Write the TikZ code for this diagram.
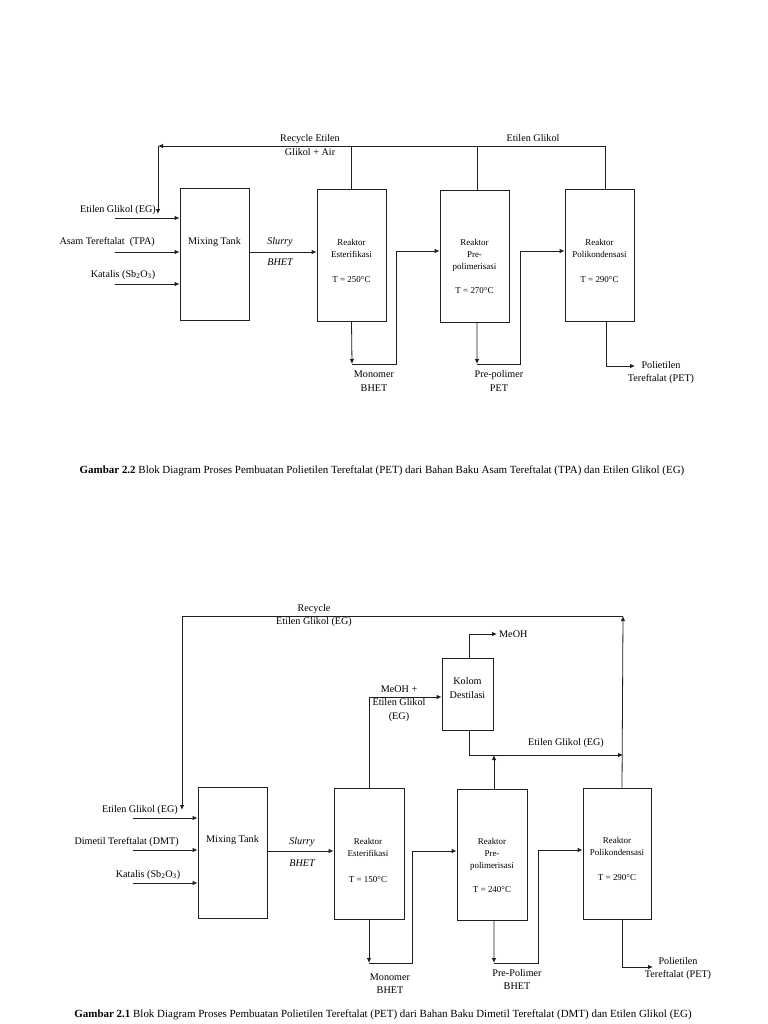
\documentclass[tikz,border=0pt]{standalone}
\usepackage{fontspec}
\setmainfont{Liberation Serif}
\usetikzlibrary{arrows.meta}
\definecolor{ln}{gray}{0.12}

\begin{document}
\begin{tikzpicture}[x=1bp, y=-1bp,
    block/.style={rectangle, draw=ln, line width=0.8bp, minimum width=69bp, minimum height=132bp, inner sep=0pt},
    kolom/.style={block, minimum width=51bp, minimum height=72bp},
    txt/.style={font=\fontsize{10.2}{13.5}\selectfont, align=center, inner sep=0pt},
    intxt/.style={font=\fontsize{9}{12}\selectfont, align=center, inner sep=0pt},
    captxt/.style={font=\fontsize{11}{12}\selectfont, inner sep=0pt},
    arrow/.style={-{Latex[length=5bp, width=4.5bp]}, draw=ln, line width=0.8bp},
    line/.style={draw=ln, line width=0.8bp}
]
\useasboundingbox (0,0) rectangle (768,1024);

%% ---------- Gambar 2.2 (TPA) ----------

% Blocks
\node[block] (mix1) at (214.5,254) {};
\node[txt] (mix1t) at (214.5,242) {Mixing Tank};
\node[block] (est1) at (351.5,255) {};
\node[intxt] (est1t) at (351.5,261) {Reaktor\\Esterifikasi\\[13bp]T = 250°C};
\node[block] (pre1) at (474.5,256) {};
\node[intxt] (pre1t) at (474.5,266) {Reaktor\\Pre-\\polimerisasi\\[12bp]T = 270°C};
\node[block] (pol1) at (599.5,255) {};
\node[intxt] (pol1t) at (599.5,261) {Reaktor\\Polikondensasi\\[13bp]T = 290°C};

% Inputs
\coordinate (a1) at (115,218);
\coordinate (a2) at (115,252);
\coordinate (a3) at (115,284);
\node[txt, anchor=east] (eg1) at (156,210) {Etilen Glikol (EG)};
\node[txt, anchor=east] (tpa1) at (155,242) {Asam Tereftalat~ (TPA)};
\node[txt] (kat1) at (123,275) {Katalis (Sb\textsubscript{2}O\textsubscript{3})};
\draw[arrow] (a1) -- (a1 -| mix1.west);
\draw[arrow] (a2) -- (a2 -| mix1.west);
\draw[arrow] (a3) -- (a3 -| mix1.west);

% Slurry
\node[txt, font=\fontsize{10.2}{13.5}\selectfont\itshape] (sl1) at (280,242) {Slurry};
\node[txt, font=\fontsize{10.2}{13.5}\selectfont\itshape] (bh1) at (280,262) {BHET};
\draw[arrow] (mix1.east |- a2) -- (est1.west |- a2);

% Recycle
\coordinate (rc1) at (158,146);
\coordinate (rc1b) at (158,214);
\draw[arrow] ([xshift=5.5bp]pol1.north) |- (rc1);
\draw[line] (est1.north) -- (est1.north |- rc1);
\draw[line] ([xshift=2.5bp]pre1.north) -- ([xshift=2.5bp]pre1.north |- rc1);
\draw[arrow] (rc1) -- (rc1b);
\node[txt] (rec1) at (310,145) {Recycle Etilen\\Glikol + Air};
\node[txt] (egl1) at (533,138) {Etilen Glikol};

% Products
\coordinate (m1) at (352,364);
\coordinate (m1b) at (396,251);
\draw[arrow] (est1.south) -- (m1);
\draw[arrow] (m1) -| (m1b) -- (m1b -| pre1.west);
\node[txt] (mon1) at (374,381) {Monomer\\BHET};
\coordinate (p1) at (477,364);
\coordinate (p1b) at (520,251);
\draw[arrow] ([xshift=2.5bp]pre1.south) -- (p1);
\draw[arrow] (p1) -| (p1b) -- (p1b -| pol1.west);
\node[txt] (pp1) at (499,381) {Pre-polimer\\PET};
\coordinate (e1) at (635,366);
\draw[arrow] ([xshift=6.5bp]pol1.south) |- (e1);
\node[txt] (pet1) at (661,372.5) {Polietilen\\Tereftalat (PET)};

% Caption
\node[captxt] (cap1) at (382,471) {\textbf{Gambar 2.2} Blok Diagram Proses Pembuatan Polietilen Tereftalat (PET) dari Bahan Baku Asam Tereftalat (TPA) dan Etilen Glikol (EG)};

%% ---------- Gambar 2.1 (DMT) ----------

% Blocks
\node[block, minimum height=131bp] (mix2) at (232.5,852.5) {};
\node[txt] (mix2t) at (232.5,840) {Mixing Tank};
\node[block, minimum width=70bp, minimum height=131bp] (est2) at (369,853.5) {};
\node[intxt] (est2t) at (368,860) {Reaktor\\Esterifikasi\\[14bp]T = 150°C};
\node[block, minimum width=70bp, minimum height=131bp] (pre2) at (492,854.5) {};
\node[intxt] (pre2t) at (492,865.5) {Reaktor\\Pre-\\polimerisasi\\[12bp]T = 240°C};
\node[block, minimum width=68bp, minimum height=131bp] (pol2) at (617,853.5) {};
\node[intxt] (pol2t) at (617,859) {Reaktor\\Polikondensasi\\[13bp]T = 290°C};
\node[kolom] (kol) at (467.5,694) {};
\node[txt] (kolt) at (467.5,688) {Kolom\\Destilasi};

% Inputs
\coordinate (b1) at (133,818);
\coordinate (b2) at (133,850);
\coordinate (b3) at (133,883);
\node[txt, anchor=east] (eg2) at (178,810) {Etilen Glikol (EG)};
\node[txt, anchor=east] (dmt2) at (179,842) {Dimetil Tereftalat (DMT)};
\node[txt] (kat2) at (148,875) {Katalis (Sb\textsubscript{2}O\textsubscript{3})};
\draw[arrow] (b1) -- (b1 -| mix2.west);
\draw[arrow] (b2) -- (b2 -| mix2.west);
\draw[arrow] (b3) -- (b3 -| mix2.west);

% Slurry
\node[txt, font=\fontsize{10.2}{13.5}\selectfont\itshape] (sl2) at (302,842) {Slurry};
\node[txt, font=\fontsize{10.2}{13.5}\selectfont\itshape] (bh2) at (302,863) {BHET};
\draw[arrow] (mix2.east |- 0,851) -- (est2.west |- 0,851);

% Recycle
\coordinate (rc2) at (182,616);
\coordinate (rc2r) at (623,616);
\coordinate (rc2b) at (182,810);
\draw[arrow] ([xshift=5bp]pol2.north) -- (rc2r);
\draw[line] (rc2r) -- (rc2);
\draw[arrow] (rc2) -- (rc2b);
\node[txt] (rec2) at (314,615.5) {Recycle\\Etilen Glikol (EG)};

% Kolom destilasi
\draw[arrow] (est2.north) |- ([yshift=-3bp]kol.west);
\node[txt] (mg2) at (399,703.5) {MeOH +\\Etilen Glikol\\(EG)};
\coordinate (me2) at (497,634);
\draw[arrow] ([xshift=1.5bp]kol.south |- kol.north) |- (me2);
\node[txt, anchor=west] (meoh2) at (499,634) {MeOH};
\coordinate (eg2r) at (623,755);
\draw[arrow] ([xshift=1.5bp]kol.south) |- (eg2r);
\draw[arrow] ([xshift=2bp]pre2.north) -- ([xshift=2bp]pre2.north |- eg2r);
\node[txt] (egl2) at (566,743) {Etilen Glikol (EG)};

% Products
\coordinate (m2) at (369,963);
\coordinate (m2b) at (412,851);
\draw[arrow] (est2.south) -- (m2);
\draw[arrow] (m2) -| (m2b) -- (m2b -| pre2.west);
\node[txt] (mon2) at (390,983.5) {Monomer\\BHET};
\coordinate (p2) at (494,963);
\coordinate (p2b) at (538,850);
\draw[arrow] ([xshift=2bp]pre2.south) -- (p2);
\draw[arrow] (p2) -| (p2b) -- (p2b -| pol2.west);
\node[txt] (pp2) at (517,979.5) {Pre-Polimer\\BHET};
\coordinate (e2) at (653,967);
\draw[arrow] ([xshift=5bp]pol2.south) |- (e2);
\node[txt] (pet2) at (678,968.5) {Polietilen\\Tereftalat (PET)};

% Caption
\node[captxt] (cap2) at (383,1015) {\textbf{Gambar 2.1} Blok Diagram Proses Pembuatan Polietilen Tereftalat (PET) dari Bahan Baku Dimetil Tereftalat (DMT) dan Etilen Glikol (EG)};

\end{tikzpicture}
\end{document}
